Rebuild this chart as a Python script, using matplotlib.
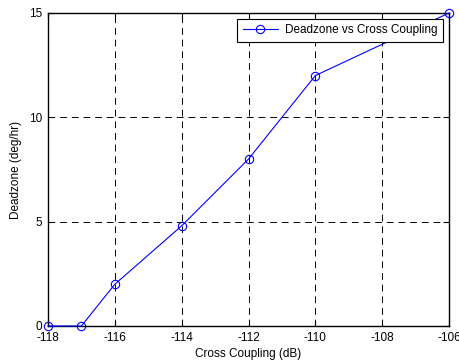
import matplotlib
matplotlib.use('Agg')
import matplotlib.pyplot as plt

plt.rcParams['font.family'] = ['Liberation Sans', 'DejaVu Sans']
plt.rcParams['font.size'] = 8
plt.rcParams['axes.unicode_minus'] = False

coupling_db = [-118, -117, -116, -114, -112, -110, -106]
deadzone = [0, 0, 2, 4.8, 8, 12, 15]

fig = plt.figure(figsize=(4.59, 3.61), dpi=100)
ax = fig.add_axes([0.1046, 0.097, 0.8736, 0.867])

ax.plot(coupling_db, deadzone, color='blue', linewidth=0.8, marker='o',
        markersize=6, markerfacecolor='none', markeredgecolor='blue',
        markeredgewidth=0.8, label='Deadzone vs Cross Coupling', clip_on=False,
        zorder=3)

ax.set_xlim(-118, -106)
ax.set_ylim(0, 15)
ax.set_xticks(range(-118, -105, 2))
ax.set_yticks([0, 5, 10, 15])
ax.grid(True, color='black', linestyle=(0, (7, 5)), linewidth=0.7)
ax.tick_params(direction='in', length=4, width=0.8, top=True, right=True,
               labelsize=8.5, pad=4)
for s in ax.spines.values():
    s.set_linewidth(1.0)

ax.set_xlabel('Cross Coupling (dB)', fontsize=8.5, labelpad=3)
ax.set_ylabel('Deadzone (deg/hr)', fontsize=8.5, labelpad=5)

leg = ax.legend(loc='upper right', fontsize=8.5, fancybox=False, framealpha=1,
                edgecolor='black', borderaxespad=0.5, handlelength=3.0,
                borderpad=0.45, handletextpad=0.6)
leg.get_frame().set_linewidth(0.8)

fig.savefig('out.png', dpi=100)
